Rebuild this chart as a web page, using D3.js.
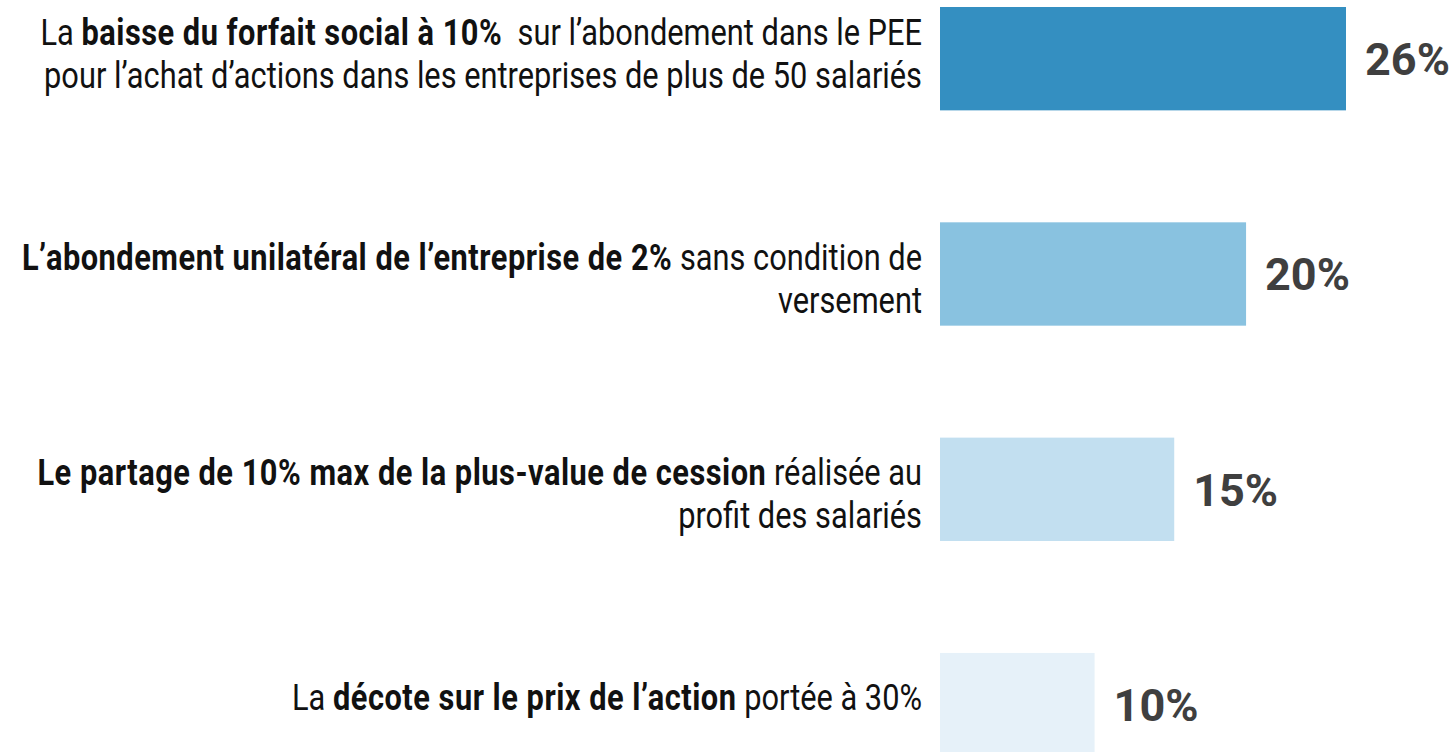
<!DOCTYPE html>
<html>
<head>
<meta charset="utf-8">
<script src="https://cdn.jsdelivr.net/npm/d3@7"></script>
<style>
  html, body { margin: 0; padding: 0; background: #ffffff; }
  svg { display: block; }
</style>
</head>
<body>
<svg id="chart" width="1454" height="752"></svg>
<script>
// ---- data ----
const categories = ["forfait", "abondement", "partage", "decote"];
const labelLines = [
  [[["La ", false], ["baisse du forfait social à 10%", true], ["  sur l’abondement dans le PEE", false]],
   [["pour l’achat d’actions dans les entreprises de plus de 50 salariés", false]]],
  [[["L’abondement unilatéral de l’entreprise de 2%", true], [" sans condition de", false]],
   [["versement", false]]],
  [[["Le partage de 10% max de la plus-value de cession", true], [" réalisée au", false]],
   [["profit des salariés", false]]],
  [[["La ", false], ["décote sur le prix de l’action", true], [" portée à 30%", false]]]
];
const values = [26.0, 19.6, 15.0, 9.9];
const colors = ["#348fc1", "#89c2e0", "#c2dff0", "#e6f1f9"];

// ---- layout ----
const labelNudge = [-5, 5, 4, -8];   // small vertical offsets of label blocks (layout only)
const svg = d3.select("#chart");
const barLeft = 940;
const x = d3.scaleLinear().domain([0, 26]).range([barLeft, 1346]);
const y = d3.scaleBand().domain(categories).range([7, 756.3]).paddingInner(0.52).paddingOuter(0);

const rows = categories.map((c, i) => ({c, i, v: values[i], col: colors[i], lines: labelLines[i]}));

svg.selectAll("rect.bar").data(rows).join("rect")
  .attr("class", "bar")
  .attr("x", x(0))
  .attr("y", d => y(d.c))
  .attr("width", d => x(d.v) - x(0))
  .attr("height", y.bandwidth())
  .attr("fill", d => d.col);

svg.selectAll("text.val").data(rows).join("text")
  .attr("class", "val")
  .attr("x", d => x(d.v) + 19)
  .attr("y", d => y(d.c) + y.bandwidth() / 2)
  .attr("dy", "0.36em")
  .attr("font-family", "Roboto, sans-serif")
  .attr("font-weight", 700)
  .attr("font-size", 45)
  .attr("fill", "#3f3f3f")
  .text(d => d3.format(".0f")(d.v) + "%");

const fontSize = 36, lineH = 43, sx = 0.855, labelRight = 922;
rows.forEach(d => {
  const n = d.lines.length;
  const cy = y(d.c) + y.bandwidth() / 2 + labelNudge[d.i];
  d.lines.forEach((line, j) => {
    const ly = cy + (j - (n - 1) / 2) * lineH;
    const t = svg.append("text")
      .attr("transform", `translate(${labelRight},${ly}) scale(${sx},1)`)
      .attr("text-anchor", "end")
      .attr("dy", "0.36em")
      .attr("font-family", "Roboto, sans-serif")
      .attr("font-size", fontSize)
      .attr("fill", "#111")
      .style("white-space", "pre");
    line.forEach(([s, b]) => {
      t.append("tspan")
        .attr("font-weight", b ? 700 : 400)
        .attr("letter-spacing", b ? 0.6 : 0)
        .text(s);
    });
  });
});
</script>
</body>
</html>
